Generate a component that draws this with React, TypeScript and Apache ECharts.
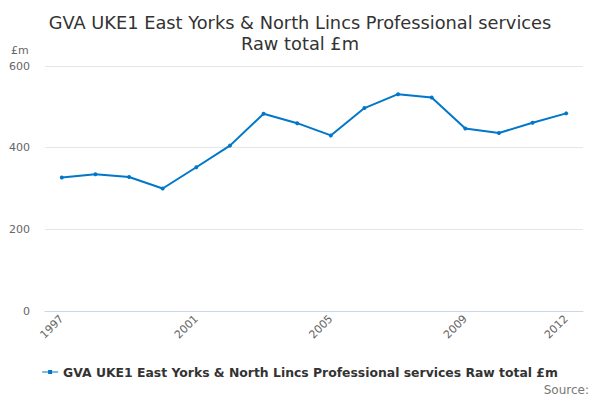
import React, { useEffect, useRef } from "react";
import * as echarts from "echarts";

const years = ["1997","1998","1999","2000","2001","2002","2003","2004","2005","2006","2007","2008","2009","2010","2011","2012"];
const values = [327, 335, 328, 300, 352, 405, 483, 460, 430, 497, 531, 523, 447, 436, 461, 484];
const yTicks = [0, 200, 400, 600];
const seriesName = "GVA UKE1 East Yorks & North Lincs Professional services Raw total £m";

const FONT = "DejaVu Sans";

export default function App() {
  const ref = useRef<HTMLDivElement>(null);
  useEffect(() => {
    if (!ref.current) return;
    const chart = echarts.init(ref.current, null, { renderer: "svg" });
    chart.setOption({
      animation: false,
      textStyle: { fontFamily: FONT },
      title: {
        text: "GVA UKE1 East Yorks & North Lincs Professional services\nRaw total £m",
        left: "center",
        top: 7,
        textStyle: { fontFamily: FONT, fontSize: 17.8, fontWeight: "normal", color: "#333333", lineHeight: 21 },
      },
      graphic: [
        { type: "text", left: 11, top: 45, style: { text: "£m", font: `11px "${FONT}"`, fill: "#666666" } },
        { type: "text", right: 11, top: 384, style: { text: "Source:", font: `12px "${FONT}"`, fill: "#777777" } },
      ],
      legend: {
        bottom: 17,
        left: "center",
        itemWidth: 16,
        itemHeight: 8,
        itemGap: 5,
        icon: "path://M0,3.5L16,3.5L16,4.5L0,4.5Z M6,2L10,2L10,6L6,6Z",
        textStyle: { fontFamily: FONT, fontSize: 12.4, fontWeight: "bold", color: "#333333" },
        data: [seriesName],
      },
      grid: { left: 45, right: 17, top: 66, bottom: 89, containLabel: false },
      xAxis: {
        type: "category",
        data: years,
        boundaryGap: true,
        axisLine: { lineStyle: { color: "#ccd6eb" } },
        axisTick: { alignWithLabel: true, length: 10, interval: 0, lineStyle: { color: "#ccd6eb" } },
        axisLabel: {
          rotate: 45,
          fontFamily: FONT,
          fontSize: 11,
          color: "#666666",
          margin: 6,
          interval: (i: number) => i % 4 === 0 || i === years.length - 1,
        },
      },
      yAxis: {
        type: "value",
        min: yTicks[0],
        max: yTicks[yTicks.length - 1],
        interval: 200,
        axisLine: { show: false },
        axisTick: { show: false },
        splitLine: { lineStyle: { color: "#e6e6e6" } },
        axisLabel: { fontFamily: FONT, fontSize: 11, color: "#666666", margin: 15 },
      },
      series: [
        {
          name: seriesName,
          type: "line",
          data: values,
          symbol: "circle",
          symbolSize: 4,
          itemStyle: { color: "#0077c8" },
          lineStyle: { color: "#0077c8", width: 2 },
        },
      ],
    });
    return () => chart.dispose();
  }, []);
  return <div ref={ref} style={{ position: "absolute", left: 0, top: 0, width: 600, height: 400 }} />;
}
